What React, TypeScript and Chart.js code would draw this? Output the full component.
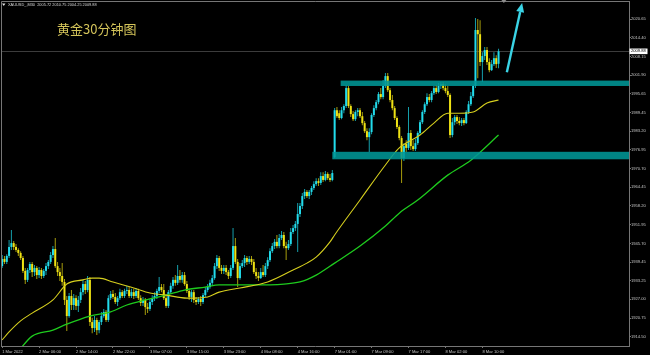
import React, { useEffect, useRef } from 'react';
import { Chart, registerables } from 'chart.js';

Chart.register(...registerables);

// ---- OHLC data (XAUUSD M30), one entry per bar ----
const opens = [
  1938.1, 1940.5, 1939.5, 1941.5, 1944.5, 1945.8, 1944.5, 1943.5, 1942.5, 1940.8,
  1936.5, 1933.5, 1936.8, 1938.8, 1936.1, 1937.5, 1935.1, 1936.8, 1934.8, 1936.5,
  1938.1, 1939.5, 1941.8, 1943.8, 1938.1, 1936.1, 1934.8, 1932.8, 1926.8, 1921.4,
  1928.1, 1925.1, 1927.4, 1924.8, 1926.8, 1929.4, 1932.1, 1930.1, 1933.5, 1919.4,
  1917.4, 1920.1, 1916.7, 1919.4, 1921.4, 1922.8, 1920.1, 1927.4, 1928.8, 1927.8,
  1926.1, 1927.4, 1929.4, 1928.1, 1929.8, 1930.1, 1928.1, 1929.4, 1928.1, 1929.8,
  1927.4, 1925.8, 1926.8, 1924.4, 1923.8, 1926.1, 1927.4, 1928.1, 1929.8, 1931.1,
  1930.1, 1927.4, 1924.8, 1929.4, 1931.5, 1933.5, 1932.5, 1934.8, 1933.5, 1935.1,
  1932.1, 1929.8, 1927.8, 1929.4, 1926.8, 1926.1, 1927.1, 1926.1, 1928.4, 1930.1,
  1931.1, 1932.5, 1934.1, 1938.1, 1940.8, 1937.5, 1936.5, 1937.5, 1936.1, 1934.8,
  1937.5, 1944.8, 1939.5, 1934.1, 1938.1, 1939.1, 1940.8, 1939.5, 1940.5, 1939.5,
  1936.1, 1934.8, 1934.1, 1936.1, 1935.1, 1938.1, 1940.1, 1943.1, 1944.8, 1946.2,
  1944.8, 1947.5, 1948.5, 1944.8, 1944.1, 1945.5, 1949.5, 1950.8, 1952.2, 1955.5,
  1958.2, 1961.5, 1962.9, 1961.5, 1962.9, 1964.2, 1965.5, 1966.5, 1965.9, 1968.2,
  1966.9, 1968.9, 1967.5, 1966.9, 1974.5, 1990.2, 1989.2, 1987.6, 1990.2, 1991.6,
  1997.6, 1991.6, 1988.9, 1987.2, 1989.6, 1990.2, 1988.2, 1985.9, 1983.2, 1981.2,
  1982.9, 1988.6, 1990.9, 1992.9, 1995.6, 1994.6, 1998.3, 2001.6, 1996.9, 1993.6,
  1990.9, 1987.6, 1984.6, 1980.9, 1974.2, 1978.9, 1977.6, 1982.6, 1978.2, 1977.2,
  1979.2, 1982.6, 1986.2, 1989.6, 1992.2, 1994.6, 1993.6, 1995.9, 1997.6, 1996.3,
  1998.3, 1998.9, 1997.6, 1996.6, 1995.3, 1981.9, 1986.2, 1987.9, 1986.6, 1985.9,
  1986.9, 1985.9, 1989.6, 1992.2, 1994.9, 1998.3, 2017.0, 2015.6, 2006.3, 2008.3,
  2010.3, 2006.3, 2003.6, 2005.6, 2007.6, 2005.72,
];
const highs = [
  1941.8, 1941.5, 1942.1, 1946.8, 1950.2, 1946.5, 1945.5, 1944.1, 1943.1, 1941.5,
  1937.5, 1937.5, 1939.5, 1939.5, 1938.5, 1938.1, 1937.8, 1937.5, 1937.1, 1939.1,
  1940.1, 1942.8, 1944.8, 1947.5, 1939.5, 1937.5, 1939.1, 1933.8, 1928.1, 1929.1,
  1930.1, 1928.8, 1928.4, 1928.1, 1930.8, 1933.5, 1933.1, 1934.8, 1934.5, 1920.8,
  1921.4, 1920.8, 1920.1, 1922.8, 1923.8, 1923.4, 1928.4, 1929.8, 1930.1, 1929.1,
  1928.1, 1930.5, 1930.1, 1930.5, 1931.5, 1931.1, 1930.5, 1930.5, 1930.8, 1930.5,
  1928.4, 1927.8, 1927.4, 1925.8, 1927.1, 1928.4, 1929.4, 1930.5, 1934.5, 1932.1,
  1932.1, 1928.4, 1930.1, 1932.5, 1934.5, 1935.1, 1938.5, 1936.8, 1936.1, 1936.1,
  1933.1, 1930.5, 1930.1, 1930.1, 1927.8, 1927.8, 1928.1, 1929.1, 1931.1, 1932.1,
  1933.5, 1935.1, 1939.1, 1941.8, 1941.5, 1938.5, 1938.5, 1938.5, 1936.8, 1938.5,
  1950.8, 1947.5, 1940.5, 1939.1, 1940.1, 1941.8, 1941.5, 1941.5, 1941.5, 1940.5,
  1937.5, 1936.1, 1937.5, 1938.5, 1939.1, 1941.1, 1944.1, 1945.8, 1947.2, 1948.5,
  1948.8, 1949.8, 1949.5, 1946.2, 1946.8, 1950.8, 1951.8, 1953.2, 1959.2, 1959.2,
  1962.5, 1963.9, 1963.5, 1963.5, 1964.9, 1966.5, 1967.5, 1967.5, 1969.5, 1969.5,
  1969.9, 1969.5, 1968.9, 1970.2, 1990.9, 1991.3, 1990.2, 1991.3, 1992.2, 1998.6,
  1998.3, 1992.2, 1989.9, 1990.2, 1990.9, 1990.9, 1989.6, 1986.6, 1984.2, 1984.2,
  1989.2, 1991.9, 1993.6, 1996.3, 1997.6, 2000.3, 2002.6, 2002.6, 1997.6, 1995.3,
  1991.6, 1988.2, 1985.2, 1981.6, 1979.2, 1980.2, 1991.3, 1983.6, 1980.2, 1980.6,
  1983.2, 1986.9, 1990.2, 1992.9, 1995.9, 1995.6, 1996.6, 1998.3, 1998.6, 1999.3,
  1999.6, 1999.6, 1998.9, 1998.3, 1995.9, 1987.6, 1988.6, 1988.6, 1987.9, 1987.6,
  1987.6, 1990.2, 1993.3, 1996.3, 1998.9, 2021.0, 2020.7, 2020.3, 2009.6, 2011.3,
  2011.3, 2007.6, 2007.0, 2009.6, 2008.6, 2010.75,
];
const lows = [
  1937.5, 1938.8, 1938.8, 1940.8, 1943.5, 1943.5, 1942.8, 1941.5, 1940.1, 1935.8,
  1932.1, 1932.8, 1935.8, 1934.5, 1934.8, 1933.8, 1934.1, 1933.8, 1934.1, 1935.1,
  1937.1, 1938.8, 1940.8, 1937.5, 1934.8, 1933.1, 1931.5, 1925.1, 1916.4, 1920.8,
  1923.4, 1923.4, 1923.4, 1922.8, 1925.8, 1928.4, 1928.8, 1929.4, 1918.1, 1915.7,
  1916.1, 1915.1, 1915.7, 1918.4, 1920.8, 1919.4, 1919.4, 1926.8, 1927.1, 1925.4,
  1924.8, 1926.8, 1927.4, 1927.4, 1928.8, 1927.4, 1927.4, 1927.1, 1927.4, 1926.8,
  1924.8, 1924.8, 1921.8, 1922.4, 1923.1, 1925.1, 1926.4, 1927.1, 1929.1, 1929.4,
  1926.8, 1924.1, 1924.1, 1928.8, 1930.5, 1931.5, 1931.8, 1932.5, 1932.5, 1931.5,
  1929.1, 1926.8, 1926.1, 1925.8, 1925.1, 1925.4, 1924.8, 1925.4, 1927.8, 1929.4,
  1930.5, 1931.8, 1933.5, 1937.1, 1936.5, 1935.5, 1935.5, 1935.1, 1933.8, 1934.1,
  1936.8, 1938.8, 1931.1, 1933.5, 1937.5, 1937.8, 1938.5, 1938.8, 1938.5, 1935.5,
  1933.8, 1933.1, 1933.8, 1934.5, 1934.5, 1937.1, 1939.5, 1942.5, 1943.8, 1944.1,
  1944.1, 1946.8, 1944.1, 1940.1, 1943.5, 1944.8, 1948.8, 1949.8, 1942.8, 1954.5,
  1957.2, 1960.5, 1960.9, 1960.5, 1961.9, 1963.5, 1964.9, 1964.9, 1965.2, 1966.2,
  1966.5, 1966.9, 1966.2, 1966.5, 1974.2, 1987.6, 1986.9, 1987.2, 1989.2, 1990.9,
  1990.9, 1987.9, 1986.6, 1986.6, 1988.2, 1987.6, 1985.2, 1982.6, 1980.2, 1976.2,
  1982.2, 1987.9, 1990.2, 1992.2, 1993.9, 1993.9, 1997.6, 1996.3, 1992.9, 1990.2,
  1986.9, 1983.9, 1980.2, 1965.9, 1973.2, 1976.2, 1976.9, 1976.9, 1976.6, 1976.6,
  1978.6, 1981.9, 1985.6, 1988.9, 1991.6, 1992.9, 1992.9, 1995.3, 1995.6, 1995.9,
  1997.3, 1996.9, 1995.9, 1994.6, 1980.9, 1981.2, 1985.2, 1985.6, 1985.2, 1984.9,
  1985.2, 1985.6, 1988.9, 1991.6, 1994.3, 1997.6, 2000.9, 2005.0, 1999.6, 2007.0,
  2005.3, 2002.9, 2003.3, 2005.0, 2004.3, 2004.25,
];
const closes = [
  1940.5, 1939.5, 1941.5, 1944.5, 1945.8, 1944.5, 1943.5, 1942.5, 1940.8, 1936.5,
  1933.5, 1936.8, 1938.8, 1936.1, 1937.5, 1935.1, 1936.8, 1934.8, 1936.5, 1938.1,
  1939.5, 1941.8, 1943.8, 1938.1, 1936.1, 1934.8, 1932.8, 1926.8, 1921.4, 1928.1,
  1925.1, 1927.4, 1924.8, 1926.8, 1929.4, 1932.1, 1930.1, 1933.5, 1919.4, 1917.4,
  1920.1, 1916.7, 1919.4, 1921.4, 1922.8, 1920.1, 1927.4, 1928.8, 1927.8, 1926.1,
  1927.4, 1929.4, 1928.1, 1929.8, 1930.1, 1928.1, 1929.4, 1928.1, 1929.8, 1927.4,
  1925.8, 1926.8, 1924.4, 1923.8, 1926.1, 1927.4, 1928.1, 1929.8, 1931.1, 1930.1,
  1927.4, 1924.8, 1929.4, 1931.5, 1933.5, 1932.5, 1934.8, 1933.5, 1935.1, 1932.1,
  1929.8, 1927.8, 1929.4, 1926.8, 1926.1, 1927.1, 1926.1, 1928.4, 1930.1, 1931.1,
  1932.5, 1934.1, 1938.1, 1940.8, 1937.5, 1936.5, 1937.5, 1936.1, 1934.8, 1937.5,
  1944.8, 1939.5, 1934.1, 1938.1, 1939.1, 1940.8, 1939.5, 1940.5, 1939.5, 1936.1,
  1934.8, 1934.1, 1936.1, 1935.1, 1938.1, 1940.1, 1943.1, 1944.8, 1946.2, 1944.8,
  1947.5, 1948.5, 1944.8, 1944.1, 1945.5, 1949.5, 1950.8, 1952.2, 1955.5, 1958.2,
  1961.5, 1962.9, 1961.5, 1962.9, 1964.2, 1965.5, 1966.5, 1965.9, 1968.2, 1966.9,
  1968.9, 1967.5, 1966.9, 1969.2, 1990.2, 1988.2, 1987.6, 1990.2, 1991.6, 1997.6,
  1991.6, 1988.9, 1987.2, 1989.6, 1990.2, 1988.2, 1985.9, 1983.2, 1981.2, 1982.9,
  1988.6, 1990.9, 1992.9, 1995.6, 1994.6, 1998.3, 2001.6, 1996.9, 1993.6, 1990.9,
  1987.6, 1984.6, 1980.9, 1974.2, 1978.2, 1977.6, 1982.6, 1978.2, 1977.2, 1979.2,
  1982.6, 1986.2, 1989.6, 1992.2, 1994.6, 1993.6, 1995.9, 1997.6, 1996.3, 1998.3,
  1998.9, 1997.6, 1996.6, 1995.3, 1981.9, 1986.2, 1987.9, 1986.6, 1985.9, 1986.9,
  1985.9, 1989.6, 1992.2, 1994.9, 1998.3, 2017.0, 2015.6, 2006.3, 2008.3, 2010.3,
  2006.3, 2003.6, 2005.6, 2007.6, 2005.6, 2009.88,
];

// ---- axis labels ----
const timeLabelBars = [0, 16, 32, 48, 64, 80, 96, 112, 128, 144, 160, 176, 192, 208];
const timeLabels = [
  '1 Mar 2022', '2 Mar 06:00', '2 Mar 14:00', '2 Mar 22:00', '3 Mar 07:00', '3 Mar 15:00',
  '3 Mar 23:00', '4 Mar 08:00', '4 Mar 16:00', '7 Mar 01:00', '7 Mar 09:00', '7 Mar 17:00',
  '8 Mar 02:00', '8 Mar 10:00',
];
const priceTicks = [
  1914.5, 1920.75, 1927.0, 1933.25, 1939.45, 1945.7, 1951.95, 1958.2, 1964.45,
  1970.7, 1976.95, 1983.2, 1989.45, 1995.65, 2001.9, 2008.15, 2014.4, 2020.65,
];

// ---- moving averages (read at sample bars) ----
const fastMABars = [0, 3, 8, 13, 22, 28, 35, 39, 42, 48, 57, 64, 71, 80, 89, 94, 103, 115, 126, 132, 136, 142, 144, 155, 166, 172, 181, 187, 193, 198, 204, 210, 215];
const fastMAValues = [1913.4, 1916.1, 1919.8, 1922.4, 1926.8, 1932.1, 1933.5, 1934.1, 1934.1, 1932.8, 1930.8, 1929.1, 1928.4, 1927.4, 1927.8, 1929.4, 1930.8, 1932.8, 1936.8, 1939.1, 1941.1, 1946.2, 1948.5, 1960.2, 1971.9, 1977.6, 1981.9, 1985.9, 1989.2, 1989.2, 1989.6, 1992.6, 1993.6];
const slowMABars = [0, 6, 13, 22, 28, 38, 47, 54, 62, 71, 79, 88, 94, 108, 122, 129, 136, 144, 155, 166, 172, 180, 193, 203, 215];
const slowMAValues = [1904.5, 1908.8, 1914.7, 1916.7, 1918.7, 1921.4, 1922.8, 1925.1, 1926.8, 1928.4, 1930.1, 1931.1, 1931.8, 1931.8, 1932.1, 1932.8, 1935.1, 1939.1, 1944.8, 1951.5, 1955.8, 1960.2, 1968.5, 1973.5, 1981.9];

// ---- drawn objects ----
const zoneStartBars = [146.6, 143.0];
const zoneTops = [2000.1, 1976.3];
const zoneBottoms = [1998.3, 1973.8];
const arrowFrom = [218.6, 2002.9];
const arrowTo = [225.2, 2026.0];
const bidPrice = 2009.88;
const shiftMarkerBar = 217.3;
const headerText = 'XAUUSD_,M30  2005.72 2010.75 2004.25 2009.88';
const titleText = '黄金30分钟图';

const BULL = '#22dcec';
const BEAR = '#efe214';
const BULL_WICK = '#159fab';
const BEAR_WICK = '#a69c0c';
const AXIS = '#767676';
const LABEL = '#c4c4c4';
const TICK_FONT = { family: 'Liberation Sans', size: 4.1 };

const overlay = {
  id: 'overlay',
  beforeDraw(chart: any) {
    const c = chart.ctx;
    c.save();
    c.fillStyle = '#000';
    c.fillRect(0, 0, chart.width, chart.height);
    c.restore();
  },
  beforeDatasetsDraw(chart: any) {
    const { ctx: c, chartArea: a, scales } = chart;
    const y = scales.y.getPixelForValue(bidPrice);
    c.save();
    c.strokeStyle = '#3c3c3c';
    c.lineWidth = 1;
    c.beginPath();
    c.moveTo(a.left, Math.round(y) + 0.5);
    c.lineTo(a.right, Math.round(y) + 0.5);
    c.stroke();
    c.restore();
  },
  afterDatasetsDraw(chart: any) {
    const { ctx: c, chartArea: a, scales } = chart;
    c.save();
    c.fillStyle = 'rgba(0,150,150,0.88)';
    zoneStartBars.forEach((b, i) => {
      const x0 = scales.x.getPixelForValue(b);
      const yt = scales.y.getPixelForValue(zoneTops[i]);
      const yb = scales.y.getPixelForValue(zoneBottoms[i]);
      c.fillRect(x0, yt, a.right - x0, yb - yt);
    });
    c.restore();
  },
  afterDraw(chart: any) {
    const { ctx: c, chartArea: a, scales } = chart;
    c.save();
    c.strokeStyle = AXIS;
    c.lineWidth = 1;
    c.beginPath();
    c.moveTo(a.left + 0.5, a.bottom);
    c.lineTo(a.left + 0.5, a.top + 0.5);
    c.lineTo(a.right, a.top + 0.5);
    c.stroke();

    const mx = scales.x.getPixelForValue(shiftMarkerBar);
    c.fillStyle = '#8c8c8c';
    c.beginPath();
    c.moveTo(mx - 2.5, 0);
    c.lineTo(mx + 2.5, 0);
    c.lineTo(mx, 3);
    c.closePath();
    c.fill();

    const x1 = scales.x.getPixelForValue(arrowFrom[0]);
    const y1 = scales.y.getPixelForValue(arrowFrom[1]);
    const x2 = scales.x.getPixelForValue(arrowTo[0]);
    const y2 = scales.y.getPixelForValue(arrowTo[1]);
    const ang = Math.atan2(y2 - y1, x2 - x1);
    const hl = 9, hw = 4;
    const bx = x2 - hl * Math.cos(ang);
    const by = y2 - hl * Math.sin(ang);
    c.strokeStyle = '#3ad4e6';
    c.fillStyle = '#3ad4e6';
    c.lineWidth = 2.4;
    c.beginPath();
    c.moveTo(x1, y1);
    c.lineTo(bx, by);
    c.stroke();
    c.beginPath();
    c.moveTo(x2, y2);
    c.lineTo(bx + hw * Math.sin(ang), by - hw * Math.cos(ang));
    c.lineTo(bx - hw * Math.sin(ang), by + hw * Math.cos(ang));
    c.closePath();
    c.fill();

    c.fillStyle = '#e0e0e0';
    c.beginPath();
    c.moveTo(2, 3.5);
    c.lineTo(5.5, 3.5);
    c.lineTo(3.75, 6);
    c.closePath();
    c.fill();
    c.font = '3.9px "Liberation Sans"';
    c.textBaseline = 'middle';
    c.textAlign = 'left';
    c.fillStyle = '#d8d8d8';
    c.fillText(headerText, 8, 5);

    c.font = '13px "Noto Sans CJK SC"';
    c.fillStyle = '#d4c45a';
    c.fillText(titleText, 57, 29);

    const by2 = scales.y.getPixelForValue(bidPrice);
    c.fillStyle = '#ffffff';
    c.fillRect(a.right + 0.5, by2 - 2.8, 18, 5.6);
    c.fillStyle = '#000000';
    c.font = '4.1px "Liberation Sans"';
    c.fillText(bidPrice.toFixed(2), a.right + 2, by2);
    c.restore();
  },
};

export default function App() {
  const ref = useRef<HTMLCanvasElement>(null);
  useEffect(() => {
    const idx = closes.map((_, i) => i);
    const bull = idx.map((i) => closes[i] >= opens[i]);
    const chart = new Chart(ref.current as HTMLCanvasElement, {
      type: 'bar',
      data: {
        datasets: [
          {
            type: 'line',
            label: 'MA fast',
            data: fastMABars.map((b, i) => ({ x: b, y: fastMAValues[i] })),
            borderColor: '#d6cf1e',
            borderWidth: 1.1,
            pointRadius: 0,
            cubicInterpolationMode: 'monotone',
            order: 0,
          } as any,
          {
            type: 'line',
            label: 'MA slow',
            data: slowMABars.map((b, i) => ({ x: b, y: slowMAValues[i] })),
            borderColor: '#1ecb1e',
            borderWidth: 1.3,
            pointRadius: 0,
            cubicInterpolationMode: 'monotone',
            order: 1,
          } as any,
          {
            type: 'bar',
            label: 'body',
            data: idx.map((i) => ({ x: i, y: [opens[i], closes[i]] })),
            backgroundColor: idx.map((i) => (bull[i] ? BULL : BEAR)),
            barThickness: 2,
            grouped: false,
            minBarLength: 1,
            inflateAmount: 0,
            borderWidth: 0,
            borderSkipped: false,
            order: 2,
          } as any,
          {
            type: 'bar',
            label: 'wick',
            data: idx.map((i) => ({ x: i, y: [lows[i], highs[i]] })),
            backgroundColor: idx.map((i) => (bull[i] ? BULL_WICK : BEAR_WICK)),
            barThickness: 1,
            grouped: false,
            inflateAmount: 0,
            borderWidth: 0,
            borderSkipped: false,
            order: 3,
          } as any,
        ],
      },
      options: {
        animation: false,
        responsive: false,
        devicePixelRatio: 1,
        events: [],
        layout: { padding: { left: 1, top: 1, right: 0, bottom: 0 } },
        plugins: { legend: { display: false }, tooltip: { enabled: false } },
        scales: {
          x: {
            type: 'linear',
            min: -0.5,
            max: 271.5,
            offset: false,
            afterBuildTicks: (s: any) => {
              s.ticks = timeLabelBars.map((v) => ({ value: v }));
            },
            afterFit: (s: any) => {
              s.height = 9;
              s.paddingLeft = 0;
              s.paddingRight = 0;
            },
            ticks: {
              autoSkip: false,
              maxRotation: 0,
              minRotation: 0,
              align: 'start',
              padding: 1,
              color: LABEL,
              font: TICK_FONT,
              callback: (v: any) => {
                const k = timeLabelBars.indexOf(Number(v));
                return k >= 0 ? timeLabels[k] : '';
              },
            },
            grid: { display: true, drawOnChartArea: false, drawTicks: true, tickLength: 2, color: AXIS, offset: false },
            border: { display: true, color: AXIS, width: 1 },
          },
          y: {
            type: 'linear',
            position: 'right',
            min: 1911.4,
            max: 2026.7,
            afterBuildTicks: (s: any) => {
              s.ticks = priceTicks.map((v) => ({ value: v }));
            },
            afterFit: (s: any) => {
              s.width = 21;
              s.paddingTop = 0;
              s.paddingBottom = 0;
            },
            ticks: {
              padding: 0,
              color: LABEL,
              font: TICK_FONT,
              callback: (v: any) => Number(v).toFixed(2),
            },
            grid: { display: true, drawOnChartArea: false, drawTicks: true, tickLength: 2, color: AXIS },
            border: { display: true, color: AXIS, width: 1 },
          },
        },
      } as any,
      plugins: [overlay],
    });
    return () => chart.destroy();
  }, []);

  return (
    <div style={{ position: 'fixed', left: 0, top: 0, width: 650, height: 355, background: '#000' }}>
      <canvas ref={ref} width={650} height={355} style={{ display: 'block' }} />
    </div>
  );
}
